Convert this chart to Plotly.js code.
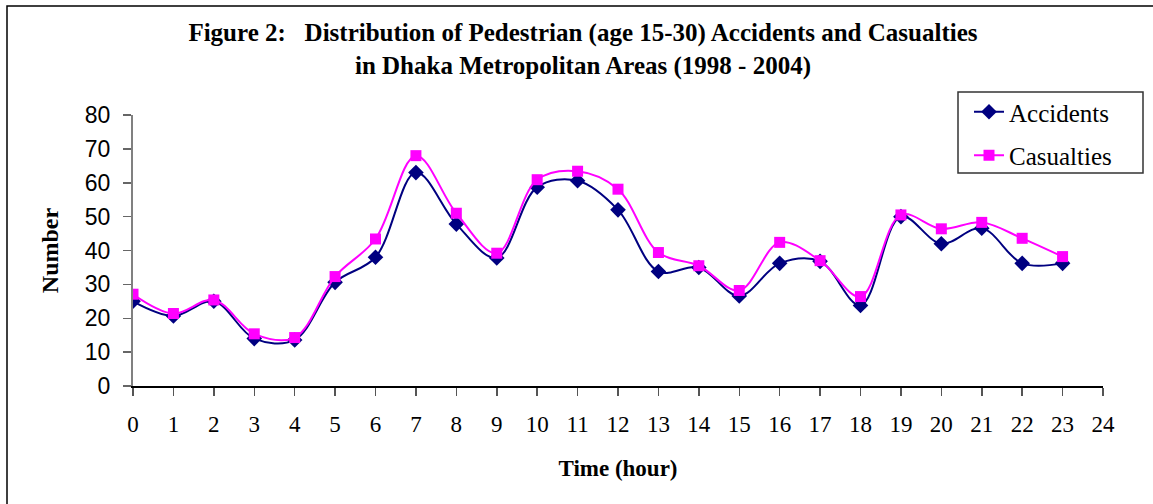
<!DOCTYPE html>
<html>
<head>
<meta charset="utf-8">
<script src="https://cdn.plot.ly/plotly-3.0.1.min.js"></script>
<style>
  html, body { margin: 0; padding: 0; background: #fff; }
  #chart { width: 1153px; height: 504px; }
</style>
</head>
<body>
<div id="chart"></div>
<script>
const hours = [0,1,2,3,4,5,6,7,8,9,10,11,12,13,14,15,16,17,18,19,20,21,22,23];
const accidents = [25,20.7,25,14,13.6,30.6,38,63,47.8,37.8,58.7,60.6,52,33.8,35,26.6,36.2,36.8,23.8,50,42,46.6,36.2,36.2];
const casualties = [27.1,21.4,25.4,15.4,14.3,32.3,43.4,68,51,39.2,60.9,63.4,58.1,39.4,35.5,28.2,42.4,37,26.4,50.5,46.4,48.3,43.6,38.2];
const xTicks = [0,1,2,3,4,5,6,7,8,9,10,11,12,13,14,15,16,17,18,19,20,21,22,23,24];
const yTicks = [0,10,20,30,40,50,60,70,80];

const serif = "'Liberation Serif', 'Times New Roman', serif";
const sans = "'Liberation Sans', Arial, sans-serif";

const traces = [
  {
    x: hours, y: accidents, name: 'Accidents', type: 'scatter', mode: 'lines+markers',
    legendgroup: 'a',
    line: {color: '#000080', width: 2, shape: 'spline', smoothing: 1},
    marker: {symbol: 'diamond', size: 12, color: '#000080'}
  },
  {
    x: hours, y: casualties, name: 'Casualties', type: 'scatter', mode: 'lines+markers',
    legendgroup: 'c',
    line: {color: '#FF00FF', width: 2, shape: 'spline', smoothing: 1},
    marker: {symbol: 'square', size: 11, color: '#FF00FF'}
  }
];

// helpers converting page pixels to paper units of the plot area
const L = 133, T = 115, W = 970, H = 271;
const px = v => (v - L) / W;
const py = v => 1 + (T - v) / H;

const layout = {
  width: 1153, height: 504,
  margin: {l: 133, r: 50, t: 115, b: 118},
  paper_bgcolor: '#fff', plot_bgcolor: '#fff',
  showlegend: true,
  title: {
    text: '<b>Figure 2:&nbsp;&nbsp; Distribution of Pedestrian (age 15-30) Accidents and Casualties<br>in Dhaka Metropolitan Areas (1998 - 2004)</b>',
    font: {family: serif, size: 25, color: '#000'},
    xref: 'container', x: 0.5056, xanchor: 'center',
    yref: 'container', y: 0.918, yanchor: 'top'
  },
  xaxis: {
    range: [0, 24], tickvals: xTicks, ticktext: xTicks.map(String),
    showgrid: false, zeroline: false,
    showline: true, linecolor: '#000', linewidth: 1.5,
    ticks: 'outside', ticklen: 8, tickcolor: '#555', tickwidth: 1.5,
    tickfont: {family: serif, size: 23, color: '#000'},
    ticklabelstandoff: 9,
    title: {text: '<b>Time (hour)</b>', font: {family: serif, size: 23, color: '#000'}, standoff: 24}
  },
  yaxis: {
    range: [0, 80], tickvals: yTicks, ticktext: yTicks.map(String),
    showgrid: false, zeroline: false,
    showline: true, linecolor: '#808080', linewidth: 2,
    ticks: 'outside', ticklen: 8, tickcolor: '#666', tickwidth: 1.5,
    tickfont: {family: sans, size: 23, color: '#000'},
    ticklabelstandoff: 8,
    title: {text: '<b>Number</b>', font: {family: serif, size: 24, color: '#000'}, standoff: 19}
  },
  legend: {
    x: px(969), y: py(89), xanchor: 'left', yanchor: 'top',
    bgcolor: 'rgba(0,0,0,0)', borderwidth: 0,
    font: {family: serif, size: 25, color: '#000'},
    traceorder: 'grouped', tracegroupgap: 8
  },
  shapes: [
    // page frame (left and top edges)
    {type: 'path', xref: 'paper', yref: 'paper',
     path: `M ${px(7)} -0.5 L ${px(7)} ${py(6)} L 1.1 ${py(6)}`,
     line: {color: '#000', width: 1.5}},
    // legend box
    {type: 'rect', xref: 'paper', yref: 'paper', layer: 'above',
     x0: px(958), x1: px(1143), y0: py(173), y1: py(92),
     fillcolor: '#fff', line: {color: '#333', width: 1.5}}
  ]
};

Plotly.newPlot('chart', traces, layout, {displayModeBar: false, staticPlot: true});
</script>
</body>
</html>
